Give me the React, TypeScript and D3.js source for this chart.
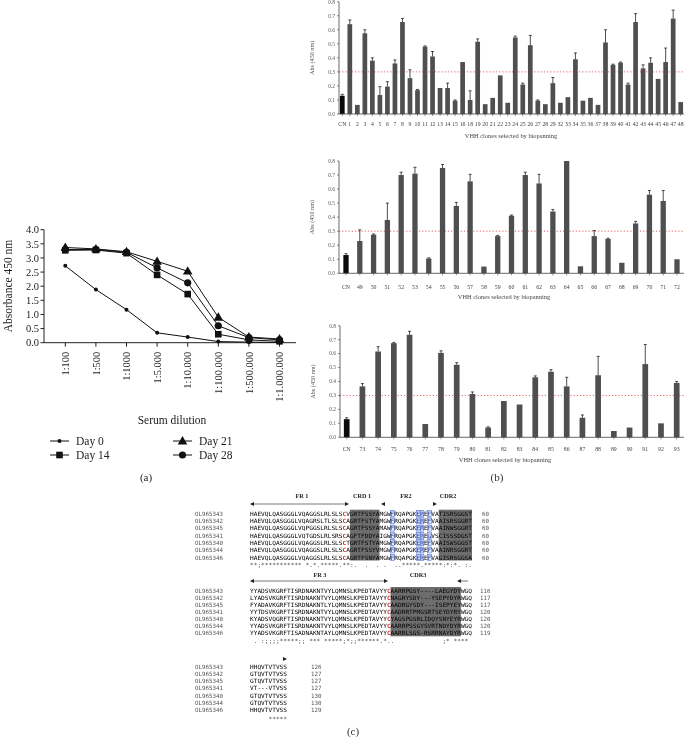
import React from 'react';
import * as d3 from 'd3';

// ---------- Panel (a) data ----------
const dilutions = ['1:100', '1:500', '1:1000', '1:5.000', '1:10.000', '1:100.000', '1:500.000', '1:1.000.000'];
const day0 = [2.72, 1.88, 1.17, 0.35, 0.2, 0.04, 0.02, 0.01];
const day14 = [3.27, 3.28, 3.17, 2.4, 1.72, 0.3, 0.1, 0.05];
const day21 = [3.37, 3.32, 3.22, 2.88, 2.53, 0.9, 0.2, 0.13];
const day28 = [3.3, 3.3, 3.2, 2.65, 2.12, 0.6, 0.18, 0.1];
const absTicks = [0, 0.5, 1, 1.5, 2, 2.5, 3, 3.5, 4];

// ---------- Panel (b) data ----------
const topLabels = ['CN', '1', '2', '3', '4', '5', '6', '7', '8', '9', '10', '11', '12', '13', '14', '15', '16', '18', '19', '20', '21', '22', '23', '24', '25', '26', '27', '28', '29', '32', '33', '34', '35', '36', '37', '38', '39', '40', '41', '42', '43', '44', '45', '46', '47', '48'];
const topValues = [0.13, 0.64, 0.065, 0.575, 0.38, 0.135, 0.195, 0.36, 0.655, 0.255, 0.17, 0.48, 0.41, 0.185, 0.185, 0.095, 0.37, 0.1, 0.515, 0.07, 0.115, 0.275, 0.08, 0.545, 0.21, 0.49, 0.095, 0.07, 0.22, 0.08, 0.12, 0.39, 0.095, 0.115, 0.065, 0.51, 0.35, 0.365, 0.21, 0.655, 0.325, 0.365, 0.25, 0.37, 0.68, 0.085];
const topErrors = [0.01, 0.03, 0, 0.025, 0.02, 0.06, 0.035, 0.025, 0.025, 0.06, 0.005, 0.005, 0.035, 0, 0.035, 0.005, 0.002, 0.065, 0.02, 0, 0.002, 0.002, 0, 0.01, 0.01, 0.07, 0.005, 0, 0.04, 0, 0.002, 0.045, 0, 0.003, 0, 0.09, 0.005, 0.005, 0.01, 0.06, 0.025, 0.035, 0.002, 0.1, 0.06, 0];

const midLabels = ['CN', '49', '50', '51', '52', '53', '54', '55', '56', '57', '58', '59', '60', '61', '62', '63', '64', '65', '66', '67', '68', '69', '70', '71', '72'];
const midValues = [0.13, 0.23, 0.275, 0.38, 0.7, 0.71, 0.105, 0.75, 0.48, 0.655, 0.048, 0.265, 0.41, 0.7, 0.64, 0.44, 0.8, 0.05, 0.265, 0.245, 0.075, 0.355, 0.56, 0.515, 0.1];
const midErrors = [0.01, 0.08, 0.005, 0.12, 0.02, 0.045, 0.005, 0.025, 0.025, 0.05, 0, 0.005, 0.005, 0.02, 0.065, 0.015, 0, 0, 0.04, 0.005, 0, 0.015, 0.03, 0.075, 0];

const botLabels = ['CN', '73', '74', '75', '76', '77', '78', '79', '80', '81', '82', '83', '84', '85', '86', '87', '88', '89', '90', '91', '92', '93'];
const botValues = [0.13, 0.365, 0.615, 0.675, 0.735, 0.095, 0.605, 0.52, 0.31, 0.07, 0.26, 0.235, 0.43, 0.47, 0.365, 0.14, 0.445, 0.045, 0.07, 0.525, 0.1, 0.39];
const botErrors = [0.01, 0.02, 0.035, 0.005, 0.025, 0, 0.015, 0.015, 0.015, 0.005, 0.002, 0, 0.01, 0.015, 0.065, 0.02, 0.135, 0, 0, 0.14, 0.002, 0.01];

const absBarTicks = [0, 0.1, 0.2, 0.3, 0.4, 0.5, 0.6, 0.7, 0.8];
const cutoff = 0.3;

// ---------- Panel (c) data ----------
const alignIds = ['OL965343', 'OL965342', 'OL965345', 'OL965341', 'OL965340', 'OL965344', 'OL965346'];
const block1 = [
  'HAEVQLQASGGGLVQAGGSLRLSLSC' + 'V' + 'GRTFSSYA' + 'MGWFRQAPGKEREFVA' + 'TISRSGGST',
  'HAEVQLQASGGGLVQAGRSLTLSLSC' + 'A' + 'GRTFSTYA' + 'MGWFRQAPGKEREFVA' + 'AISRSGGRT',
  'HAEVQLQASGGGLVQPGGSLRLSLSC' + 'A' + 'GRTFSSYA' + 'MAWFRQAPGKEREFVA' + 'AINWSGGRT',
  'HAEVQLQASGGGLVQTGDSLRLSRSC' + 'A' + 'GFTFDDYA' + 'IGWFRQAPGKEREGVS' + 'CISSSDGST',
  'HAEVQLQASGGGLVQAGGSLRLSLSC' + 'T' + 'GRTFSTYA' + 'MGWFRQAPGKEREFVA' + 'AISWSGGST',
  'HAEVQLQASGGGLVQAGGSLRLSLSC' + 'A' + 'GRTFSSYV' + 'MGWFRQAPGKEREFVA' + 'AINRSGGRT',
  'HAEVQLQASGGGLVQAGGSLRLSLSC' + 'A' + 'GRTFSNYA' + 'MGWFRQAPGKEREFVA' + 'GISRSGGSA',
];
const block1End = [60, 60, 60, 60, 60, 60, 60];
const block1Cons = '**;*********** *.*.*****.**:.  .  . .  ..*****.*****:*:*. :..';
const block2 = [
  'YYADSVKGRFTISRDNAKNTVYLQMNSLKPEDTAVYYC' + 'AARRPGSY----LAEGYDY' + 'WGQ',
  'LYADSVKGRFTISRDNAKNTVYLQMNSLKPEDTAVYYC' + 'NAGRYSDY---YSEPYDYR' + 'WGQ',
  'FYADAVKGRFTISRDNAKNTLYLQMNSLKPEDTAVYYC' + 'AADRGYSDY---ISEPYEY' + 'WGQ',
  'YYTDSVKGRFTISRDNAKNTVYLQMNSLKPEDTAVYYC' + 'AADRRTPMGSRTSEYDYRY' + 'WGQ',
  'KYADSVQGRFTISRDNAKNTVYLQMNSLKPEDTAVYYC' + 'YAGSPGSRLIDQYSNYEYR' + 'WGQ',
  'YYADSVKGRFTISRDNAKNTVYLQMNSLKPEDTAVYYC' + 'AARRPSSGYSVRTNDYDYR' + 'WGQ',
  'YYADSVKGRFTISADNAKNTAYLQMNSLKPEDTAVYYC' + 'AARRLSGS-RSRRNAYDYR' + 'WGQ',
];
const block2End = [116, 117, 117, 120, 120, 120, 119];
const block2Cons = ' . :;;;;*****;; *** *****;*;;******.*..             ;* ****';
const block3 = ['HHQVTVTVSS', 'GTQVTVTVSS', 'GTQVTVTVSS', 'VT---VTVSS', 'GTQVTVTVSS', 'GTQVTVTVSS', 'HHQVTVTVSS'];
const block3End = [126, 127, 127, 127, 130, 130, 129];
const block3Cons = '     *****';

const SERIF = '"Liberation Serif", "DejaVu Serif", serif';
const MONO = '"DejaVu Sans Mono", "Liberation Mono", monospace';

function Marker({ kind, x, y }: { kind: string; x: number; y: number }) {
  if (kind === 'dot') return <circle cx={x} cy={y} r={2} fill="#111" />;
  if (kind === 'square') return <rect x={x - 3.3} y={y - 3.3} width={6.6} height={6.6} fill="#111" />;
  if (kind === 'triangle') {
    const tri = d3.symbol(d3.symbolTriangle, 40)();
    return <path d={tri as string} transform={`translate(${x},${y + 0.6})`} fill="#111" />;
  }
  return <circle cx={x} cy={y} r={3.6} fill="#111" />;
}

function PanelA() {
  const x = d3.scalePoint<string>().domain(dilutions).range([65.3, 279.5]);
  const y = d3.scaleLinear().domain([0, 4]).range([342.7, 229.7]);
  const axisX = 44;
  const line = d3.line<number>().x((_, i) => x(dilutions[i]) as number).y((d) => y(d));
  const series = [
    { name: 'Day 0', data: day0, kind: 'dot' },
    { name: 'Day 14', data: day14, kind: 'square' },
    { name: 'Day 21', data: day21, kind: 'triangle' },
    { name: 'Day 28', data: day28, kind: 'circle' },
  ];
  const legendPos = [
    { lx: 50, ly: 441 },
    { lx: 50, ly: 455 },
    { lx: 173, ly: 441 },
    { lx: 173, ly: 455 },
  ];
  return (
    <g fontFamily={SERIF} fill="#222">
      <line x1={axisX} x2={axisX} y1={y(4)} y2={y(0)} stroke="#222" strokeWidth={1} />
      <line x1={axisX} x2={296} y1={y(0)} y2={y(0)} stroke="#222" strokeWidth={1} />
      {absTicks.map((t) => (
        <g key={t}>
          <line x1={axisX - 3.5} x2={axisX} y1={y(t)} y2={y(t)} stroke="#222" />
          <text x={axisX - 5} y={y(t)} dy="0.35em" textAnchor="end" fontSize={10.5}>
            {t.toFixed(1)}
          </text>
        </g>
      ))}
      {dilutions.map((d) => (
        <g key={d}>
          <line x1={x(d)} x2={x(d)} y1={y(0)} y2={y(0) + 4} stroke="#222" />
          <text
            transform={`translate(${(x(d) as number) + 3.6},${y(0) + 9}) rotate(-90)`}
            textAnchor="end"
            fontSize={10.5}
          >
            {d}
          </text>
        </g>
      ))}
      <text transform={`translate(12,286) rotate(-90)`} textAnchor="middle" fontSize={11.5}>
        Absorbance 450 nm
      </text>
      <text x={172} y={424} textAnchor="middle" fontSize={11.5}>
        Serum dilution
      </text>
      {series.map((s) => (
        <g key={s.name}>
          <path d={line(s.data) as string} fill="none" stroke="#111" strokeWidth={1} />
          {s.data.map((v, i) => (
            <Marker key={i} kind={s.kind} x={x(dilutions[i]) as number} y={y(v)} />
          ))}
        </g>
      ))}
      {series.map((s, i) => {
        const p = legendPos[i];
        return (
          <g key={'lg' + s.name}>
            <line x1={p.lx} x2={p.lx + 19} y1={p.ly} y2={p.ly} stroke="#111" strokeWidth={1} />
            <Marker kind={s.kind} x={p.lx + 9.5} y={p.ly} />
            <text x={p.lx + 26} y={p.ly} dy="0.35em" fontSize={11.5}>
              {s.name}
            </text>
          </g>
        );
      })}
      <text x={146} y={481} textAnchor="middle" fontSize={11}>
        (a)
      </text>
    </g>
  );
}

type BarProps = {
  labels: string[];
  values: number[];
  errors: number[];
  axisX: number;
  y0: number;
  yTop: number;
  xFirst: number;
  xLast: number;
  barW: number;
  labelY: number;
  titleY: number;
  titleX: number;
  ylabX: number;
};

function BarChart(p: BarProps) {
  const x = d3.scalePoint<string>().domain(p.labels).range([p.xFirst, p.xLast]);
  const y = d3.scaleLinear().domain([0, 0.8]).range([p.y0, p.yTop]);
  return (
    <g fontFamily={SERIF}>
      <line
        x1={p.axisX}
        x2={684}
        y1={y(cutoff)}
        y2={y(cutoff)}
        stroke="#e0393e"
        strokeWidth={0.8}
        strokeDasharray="1.2 2"
      />
      {p.labels.map((l, i) => {
        const cx = x(l) as number;
        const v = Math.min(p.values[i], 0.8);
        const e = p.errors[i];
        return (
          <g key={l}>
            <rect
              x={cx - p.barW / 2}
              y={y(v)}
              width={p.barW}
              height={p.y0 - y(v)}
              fill={l === 'CN' ? '#0a0a0a' : '#4f4f52'}
            />
            {e > 0.004 && (
              <g stroke="#222" strokeWidth={0.8}>
                <line x1={cx} x2={cx} y1={y(v)} y2={y(v + e)} />
                <line x1={cx - 1.5} x2={cx + 1.5} y1={y(v + e)} y2={y(v + e)} />
              </g>
            )}
            <line x1={cx} x2={cx} y1={p.y0} y2={p.y0 + 2} stroke="#444" strokeWidth={0.6} />
            <text x={cx} y={p.labelY} textAnchor="middle" fontSize={5.8} fill="#444">
              {l}
            </text>
          </g>
        );
      })}
      <line x1={p.axisX} x2={684} y1={p.y0} y2={p.y0} stroke="#444" strokeWidth={0.8} />
      <line x1={p.axisX} x2={p.axisX} y1={p.yTop} y2={p.y0} stroke="#444" strokeWidth={0.8} />
      {absBarTicks.map((t) => (
        <g key={t}>
          <line x1={p.axisX - 2} x2={p.axisX} y1={y(t)} y2={y(t)} stroke="#444" strokeWidth={0.6} />
          <text x={p.axisX - 4} y={y(t)} dy="0.35em" textAnchor="end" fontSize={5.4} fill="#555">
            {t.toFixed(1)}
          </text>
        </g>
      ))}
      <text
        transform={`translate(${p.ylabX},${(p.y0 + p.yTop) / 2}) rotate(-90)`}
        textAnchor="middle"
        fontSize={6.2}
        fill="#555"
      >
        Abs (450 nm)
      </text>
      <text x={p.titleX} y={p.titleY} textAnchor="middle" fontSize={6.4} fill="#444">
        VHH clones selected by biopanning
      </text>
    </g>
  );
}

const nb = (s: string) => s.replace(/ /g, '\u00A0');

type BlockProps = {
  seqs: string[];
  ends: number[];
  cons: string;
  nChars: number;
  x0: number;
  cw: number;
  rowY0: number;
  rowDy: number;
  consY: number;
  numX: number;
  boxes: [number, number][];
  redIdx: number[];
  blueIdx: number[];
};

function AlignBlock(b: BlockProps) {
  const rows = d3.range(b.seqs.length);
  const rowY = (i: number) => b.rowY0 + i * b.rowDy;
  const fs = 5.9;
  const colorOf = (j: number) => (b.redIdx.includes(j) ? '#e21f1f' : b.blueIdx.includes(j) ? '#2746b8' : '#000');
  return (
    <g>
      {b.boxes.map(([s, e], k) => (
        <rect
          key={'bx' + k}
          x={b.x0 + s * b.cw}
          y={rowY(0) - 4}
          width={(e - s) * b.cw}
          height={rowY(b.seqs.length - 1) - rowY(0) + 7}
          fill="#6d6d6d"
        />
      ))}
      {rows.map((i) =>
        b.blueIdx.map((j) => (
          <rect
            key={`bl${i}-${j}`}
            x={b.x0 + j * b.cw}
            y={rowY(i) - 3.2}
            width={b.cw}
            height={6}
            fill="#dfe6f7"
            stroke="#3d5fc4"
            strokeWidth={0.5}
          />
        ))
      )}
      {rows.map((i) => (
        <g key={'r' + i}>
          <text x={195} y={rowY(i)} dy="0.35em" fontSize={5.8} fontFamily={MONO} fill="#555">
            {alignIds[i]}
          </text>
          <text
            x={b.x0}
            y={rowY(i)}
            dy="0.35em"
            fontSize={fs}
            fontFamily={MONO}
            fill="#000"
            textLength={b.seqs[i].length * b.cw}
            lengthAdjust="spacingAndGlyphs"
          >
            {b.seqs[i].split('').map((c, j) => (
              <tspan key={j} fill={colorOf(j)} fontWeight={b.redIdx.includes(j) ? 'bold' : 'normal'}>
                {c}
              </tspan>
            ))}
          </text>
          <text x={b.numX} y={rowY(i)} dy="0.35em" fontSize={5.8} fontFamily={MONO} fill="#555">
            {b.ends[i]}
          </text>
        </g>
      ))}
      <text
        x={b.x0}
        y={b.consY}
        dy="0.35em"
        fontSize={fs}
        fontFamily={MONO}
        fill="#333"
        textLength={b.nChars * b.cw}
        lengthAdjust="spacingAndGlyphs"
      >
        {nb(b.cons.padEnd(b.nChars, ' ').slice(0, b.nChars))}
      </text>
    </g>
  );
}

function ArrowHead({ x, y, dir }: { x: number; y: number; dir: number }) {
  return <path d={`M${x},${y} L${x - dir * 4},${y - 2} L${x - dir * 4},${y + 2} Z`} fill="#222" />;
}

function PanelC() {
  const x0 = 250;
  const cw = 3.7;
  const hdr = { fontFamily: SERIF, fontSize: 6.2, fontWeight: 'bold' as const, fill: '#222', textAnchor: 'middle' as const };
  return (
    <g>
      <text x={302} y={498} {...hdr}>FR 1</text>
      <text x={362} y={498} {...hdr}>CRD 1</text>
      <text x={406} y={498} {...hdr}>FR2</text>
      <text x={448} y={498} {...hdr}>CDR2</text>
      <line x1={251} x2={347} y1={504} y2={504} stroke="#555" strokeWidth={0.8} />
      <ArrowHead x={250} y={504} dir={-1} />
      <ArrowHead x={349} y={504} dir={1} />
      <ArrowHead x={381} y={504} dir={-1} />
      <ArrowHead x={437} y={504} dir={1} />
      <AlignBlock
        seqs={block1}
        ends={block1End}
        cons={block1Cons}
        nChars={60}
        x0={x0}
        cw={cw}
        rowY0={513.7}
        rowDy={7.3}
        consY={564.5}
        numX={482}
        boxes={[[27, 35], [51, 60]]}
        redIdx={[25]}
        blueIdx={[38, 45, 46, 48]}
      />
      <text x={320} y={577} {...hdr}>FR 3</text>
      <text x={418} y={577} {...hdr}>CDR3</text>
      <line x1={251} x2={386} y1={581} y2={581} stroke="#555" strokeWidth={0.8} />
      <ArrowHead x={250} y={581} dir={-1} />
      <ArrowHead x={388} y={581} dir={1} />
      <line x1={460} x2={468} y1={581} y2={581} stroke="#555" strokeWidth={0.8} />
      <ArrowHead x={457} y={581} dir={-1} />
      <AlignBlock
        seqs={block2}
        ends={block2End}
        cons={block2Cons}
        nChars={60}
        x0={x0}
        cw={cw}
        rowY0={591}
        rowDy={7.05}
        consY={640.5}
        numX={480}
        boxes={[[38, 57]]}
        redIdx={[37]}
        blueIdx={[]}
      />
      <ArrowHead x={287} y={659} dir={1} />
      <AlignBlock
        seqs={block3}
        ends={block3End}
        cons={block3Cons}
        nChars={10}
        x0={x0}
        cw={cw}
        rowY0={666.7}
        rowDy={7.2}
        consY={718.5}
        numX={311}
        boxes={[]}
        redIdx={[]}
        blueIdx={[]}
      />
      <text x={353} y={735} textAnchor="middle" fontFamily={SERIF} fontSize={11} fill="#333">
        (c)
      </text>
    </g>
  );
}

export default function App() {
  return (
    <svg
      width={684}
      height={739}
      viewBox="0 0 684 739"
      style={{ position: 'absolute', left: 0, top: 0, background: '#fff' }}
    >
      <defs>
        <filter id="grayAA" x="0" y="0" width="1" height="1">
          <feColorMatrix type="saturate" values="1" />
        </filter>
      </defs>
      <g filter="url(#grayAA)">
        <rect width={684} height={739} fill="#fff" />
        <BarChart
          labels={topLabels}
          values={topValues}
          errors={topErrors}
          axisX={339}
          y0={114}
          yTop={1.7}
          xFirst={342.3}
          xLast={680.7}
          barW={4.7}
          labelY={125.5}
          titleY={137.5}
          titleX={511}
          ylabX={314}
        />
        <BarChart
          labels={midLabels}
          values={midValues}
          errors={midErrors}
          axisX={339}
          y0={273.3}
          yTop={161}
          xFirst={346}
          xLast={677}
          barW={5.3}
          labelY={288.5}
          titleY={298.5}
          titleX={504}
          ylabX={314}
        />
        <BarChart
          labels={botLabels}
          values={botValues}
          errors={botErrors}
          axisX={340}
          y0={437.3}
          yTop={325.7}
          xFirst={346.7}
          xLast={676.7}
          barW={5.7}
          labelY={450.5}
          titleY={461.5}
          titleX={505}
          ylabX={315}
        />
        <text x={497} y={481} textAnchor="middle" fontFamily={SERIF} fontSize={11} fill="#333">
          (b)
        </text>
        <PanelA />
        <PanelC />
      </g>
    </svg>
  );
}
